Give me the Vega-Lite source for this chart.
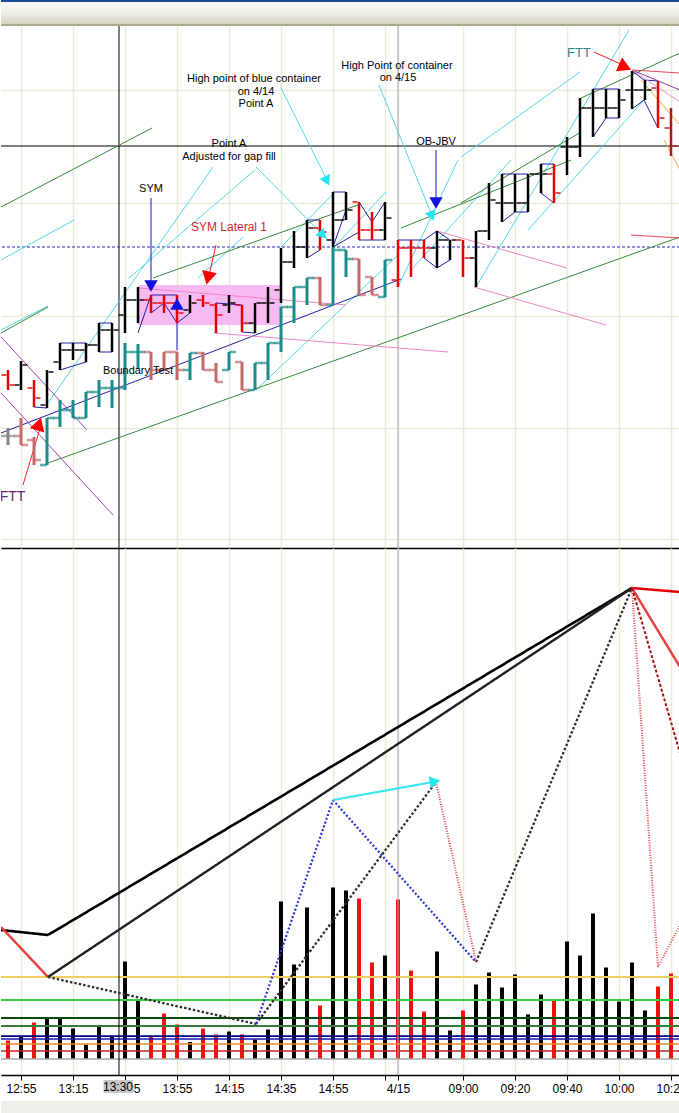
{
 "$schema": "https://vega.github.io/schema/vega-lite/v6.json",
 "padding": 0,
 "autosize": {"type": "pad"},
 "background": "white",
 "config": {"view": {"stroke": null}, "font": "Liberation Sans"},
 "datasets": {
  "main": [
   {"x":0,"hi":1157.5,"lo":1152.5,"o":1156.25,"c":1153.75,"dir":"down"},
   {"x":1,"hi":1159.75,"lo":1152.5,"o":1153.75,"c":1158.75,"dir":"up"},
   {"x":2,"hi":1155,"lo":1148.25,"o":1153,"c":1150.5,"dir":"down"},
   {"x":3,"hi":1157.5,"lo":1148,"o":1148.75,"c":1157,"dir":"up"},
   {"x":4,"hi":1164.25,"lo":1157.5,"o":1159.5,"c":1162.5,"dir":"up"},
   {"x":5,"hi":1164.25,"lo":1160,"o":1162.5,"c":1162.5,"dir":"up"},
   {"x":6,"hi":1164.25,"lo":1159.5,"o":1162.5,"c":1163.75,"dir":"up"},
   {"x":7,"hi":1169.25,"lo":1162,"o":1163.75,"c":1167.5,"dir":"up"},
   {"x":8,"hi":1169.25,"lo":1162,"o":1167.5,"c":1167.5,"dir":"up"},
   {"x":9,"hi":1178.25,"lo":1166.75,"o":1171.25,"c":1175,"dir":"up"},
   {"x":10,"hi":1178.25,"lo":1169.25,"o":1175,"c":1175,"dir":"up"},
   {"x":11,"hi":1176.25,"lo":1171.75,"o":1175,"c":1174.25,"dir":"down"},
   {"x":12,"hi":1176.25,"lo":1171.75,"o":1174.25,"c":1174.25,"dir":"down"},
   {"x":13,"hi":1176.25,"lo":1169.25,"o":1174.25,"c":1171.75,"dir":"down"},
   {"x":14,"hi":1176.25,"lo":1171.75,"o":1172.5,"c":1174.25,"dir":"up"},
   {"x":15,"hi":1176.25,"lo":1173.25,"o":1175,"c":1174.25,"dir":"down"},
   {"x":16,"hi":1174.25,"lo":1166.75,"o":1173.75,"c":1171.25,"dir":"down"},
   {"x":17,"hi":1176.25,"lo":1171.75,"o":1173.75,"c":1174.25,"dir":"up"},
   {"x":18,"hi":1173.75,"lo":1167,"o":1173.75,"c":1169.25,"dir":"down"},
   {"x":19,"hi":1174.25,"lo":1166.75,"o":1169.25,"c":1174.25,"dir":"up"},
   {"x":20,"hi":1178.25,"lo":1169.25,"o":1174.25,"c":1174.25,"dir":"up"},
   {"x":21,"hi":1188,"lo":1174.25,"o":1177.5,"c":1184.5,"dir":"up"},
   {"x":22,"hi":1192.25,"lo":1183,"o":1184.5,"c":1188.25,"dir":"up"},
   {"x":23,"hi":1195,"lo":1185.5,"o":1188.25,"c":1193,"dir":"up"},
   {"x":24,"hi":1195,"lo":1187.5,"o":1193,"c":1192,"dir":"down"},
   {"x":25,"hi":1202,"lo":1188.25,"o":1190,"c":1195,"dir":"up"},
   {"x":26,"hi":1202,"lo":1195,"o":1195,"c":1197.5,"dir":"up"},
   {"x":27,"hi":1199.5,"lo":1190,"o":1199.5,"c":1192.5,"dir":"down"},
   {"x":28,"hi":1197,"lo":1190,"o":1192.5,"c":1192.5,"dir":"down"},
   {"x":29,"hi":1199.5,"lo":1190,"o":1192.5,"c":1195.5,"dir":"up"},
   {"x":30,"hi":1190,"lo":1178.25,"o":1180,"c":1188,"dir":"down"},
   {"x":31,"hi":1190,"lo":1180.75,"o":1188,"c":1188,"dir":"down"},
   {"x":32,"hi":1190,"lo":1185.5,"o":1188,"c":1188,"dir":"down"},
   {"x":33,"hi":1192.25,"lo":1183,"o":1188,"c":1190,"dir":"up"},
   {"x":34,"hi":1190,"lo":1185,"o":1190,"c":1190,"dir":"up"},
   {"x":35,"hi":1190,"lo":1180.75,"o":1190,"c":1185.5,"dir":"down"},
   {"x":36,"hi":1192.25,"lo":1178.25,"o":1185.5,"c":1192.25,"dir":"up"},
   {"x":37,"hi":1204.25,"lo":1190,"o":1192.25,"c":1200,"dir":"up"},
   {"x":38,"hi":1206.5,"lo":1194.5,"o":1199.25,"c":1199.25,"dir":"up"},
   {"x":39,"hi":1206.5,"lo":1197,"o":1199.25,"c":1199.25,"dir":"up"},
   {"x":40,"hi":1206.5,"lo":1197,"o":1199.25,"c":1206.5,"dir":"up"},
   {"x":41,"hi":1209,"lo":1201.75,"o":1206.5,"c":1206.5,"dir":"up"},
   {"x":42,"hi":1209,"lo":1199.25,"o":1206.5,"c":1201.75,"dir":"down"},
   {"x":43,"hi":1215.75,"lo":1206.25,"o":1213.25,"c":1213.25,"dir":"up"},
   {"x":44,"hi":1225.5,"lo":1210.75,"o":1213.25,"c":1223,"dir":"up"},
   {"x":45,"hi":1227.75,"lo":1215.75,"o":1223,"c":1223,"dir":"up"},
   {"x":46,"hi":1227.75,"lo":1220.5,"o":1223,"c":1223,"dir":"up"},
   {"x":47,"hi":1227.75,"lo":1220.5,"o":1223,"c":1225,"dir":"up"},
   {"x":48,"hi":1232.25,"lo":1222.75,"o":1227.5,"c":1227.5,"dir":"up"},
   {"x":49,"hi":1230,"lo":1225,"o":1227.5,"c":1227.5,"dir":"up"},
   {"x":50,"hi":1229.75,"lo":1218,"o":1228,"c":1220.5,"dir":"down"},
   {"x":51,"hi":1223,"lo":1211,"o":1218,"c":1213.5,"dir":"down2"}
  ],
  "overlay": [
   {"x":0,"hi":1143,"lo":1138.75,"o":1141,"c":1141,"dir":"flat"},
   {"x":1,"hi":1145.5,"lo":1138.75,"o":1141,"c":1138.75,"dir":"down"},
   {"x":2,"hi":1140.75,"lo":1133.75,"o":1140,"c":1135,"dir":"down"},
   {"x":3,"hi":1145.5,"lo":1133.75,"o":1133.75,"c":1145.5,"dir":"up"},
   {"x":4,"hi":1150,"lo":1143.25,"o":1145.5,"c":1147.5,"dir":"up"},
   {"x":5,"hi":1150,"lo":1145.5,"o":1147.5,"c":1145.5,"dir":"up"},
   {"x":6,"hi":1152,"lo":1145.5,"o":1145.5,"c":1152,"dir":"up"},
   {"x":7,"hi":1155,"lo":1148.25,"o":1152,"c":1153,"dir":"up"},
   {"x":8,"hi":1155,"lo":1148,"o":1153,"c":1153,"dir":"up"},
   {"x":9,"hi":1164.25,"lo":1152.5,"o":1153,"c":1162,"dir":"up"},
   {"x":10,"hi":1164,"lo":1157.75,"o":1162,"c":1162,"dir":"up"},
   {"x":11,"hi":1162,"lo":1155,"o":1162,"c":1157.5,"dir":"down"},
   {"x":12,"hi":1162,"lo":1157.5,"o":1157.5,"c":1162,"dir":"down"},
   {"x":13,"hi":1162,"lo":1155,"o":1162,"c":1157.5,"dir":"down"},
   {"x":14,"hi":1161.75,"lo":1155,"o":1157.5,"c":1161.75,"dir":"up"},
   {"x":15,"hi":1162,"lo":1157.5,"o":1161.75,"c":1157.5,"dir":"down"},
   {"x":16,"hi":1159.25,"lo":1154.5,"o":1157.5,"c":1154.5,"dir":"down"},
   {"x":17,"hi":1162,"lo":1157.5,"o":1157.5,"c":1162,"dir":"up"},
   {"x":18,"hi":1159.5,"lo":1152.5,"o":1159.5,"c":1152.5,"dir":"down"},
   {"x":19,"hi":1159.25,"lo":1152.5,"o":1152.5,"c":1159.25,"dir":"up"},
   {"x":20,"hi":1164.25,"lo":1155,"o":1159.25,"c":1164.25,"dir":"up"},
   {"x":21,"hi":1173.25,"lo":1162,"o":1164.25,"c":1173.25,"dir":"up"},
   {"x":22,"hi":1178.25,"lo":1169.25,"o":1173.25,"c":1178.25,"dir":"up"},
   {"x":23,"hi":1180.5,"lo":1173.75,"o":1178.25,"c":1180.5,"dir":"up"},
   {"x":24,"hi":1180.75,"lo":1173.75,"o":1180.5,"c":1173.75,"dir":"down"},
   {"x":25,"hi":1188.25,"lo":1173.75,"o":1173.75,"c":1187.5,"dir":"up"},
   {"x":26,"hi":1187.5,"lo":1180.75,"o":1187.5,"c":1185.25,"dir":"up"},
   {"x":27,"hi":1185.25,"lo":1176.25,"o":1185.25,"c":1176.25,"dir":"down"},
   {"x":28,"hi":1180.75,"lo":1176.25,"o":1180.75,"c":1176.25,"dir":"down"},
   {"x":29,"hi":1185,"lo":1175.75,"o":1175.75,"c":1185,"dir":"up"}
  ],
  "vol": [
   {"x":0,"v":370,"dir":"down"},{"x":1,"v":460,"dir":"up"},{"x":2,"v":730,"dir":"down"},{"x":3,"v":820,"dir":"up"},
   {"x":4,"v":810,"dir":"up"},{"x":5,"v":610,"dir":"up"},{"x":6,"v":290,"dir":"up"},{"x":7,"v":650,"dir":"up"},
   {"x":8,"v":450,"dir":"up"},{"x":9,"v":1950,"dir":"up"},{"x":10,"v":1170,"dir":"up"},{"x":11,"v":460,"dir":"down"},
   {"x":12,"v":910,"dir":"down"},{"x":13,"v":690,"dir":"down"},{"x":14,"v":340,"dir":"up"},{"x":15,"v":610,"dir":"down"},
   {"x":16,"v":490,"dir":"down"},{"x":17,"v":550,"dir":"up"},{"x":18,"v":490,"dir":"down"},{"x":19,"v":390,"dir":"up"},
   {"x":20,"v":590,"dir":"up"},{"x":21,"v":3150,"dir":"up"},{"x":22,"v":1890,"dir":"up"},{"x":23,"v":3030,"dir":"up"},
   {"x":24,"v":1070,"dir":"down"},{"x":25,"v":3430,"dir":"up"},{"x":26,"v":3370,"dir":"up"},{"x":27,"v":3210,"dir":"down"},
   {"x":28,"v":1930,"dir":"down"},{"x":29,"v":2070,"dir":"up"},{"x":30,"v":3190,"dir":"down"},{"x":31,"v":1770,"dir":"down"},
   {"x":32,"v":950,"dir":"down"},{"x":33,"v":2150,"dir":"up"},{"x":34,"v":570,"dir":"up"},{"x":35,"v":970,"dir":"down"},
   {"x":36,"v":1490,"dir":"up"},{"x":37,"v":1730,"dir":"up"},{"x":38,"v":1430,"dir":"up"},{"x":39,"v":1690,"dir":"up"},
   {"x":40,"v":890,"dir":"up"},{"x":41,"v":1290,"dir":"up"},{"x":42,"v":1170,"dir":"down"},{"x":43,"v":2350,"dir":"up"},
   {"x":44,"v":2070,"dir":"up"},{"x":45,"v":2910,"dir":"up"},{"x":46,"v":1830,"dir":"up"},{"x":47,"v":1150,"dir":"up"},
   {"x":48,"v":1930,"dir":"up"},{"x":49,"v":970,"dir":"up"},{"x":50,"v":1450,"dir":"down"},{"x":51,"v":1710,"dir":"down"}
  ],
  "segp": [
   {"k":"cyan","x":-0.538,"y":1185,"x2":5.077,"y2":1195},
   {"k":"cyan","x":-0.538,"y":1167.5,"x2":3.077,"y2":1173.5},
   {"k":"cyan","x":3.077,"y":1149.25,"x2":15.769,"y2":1208.25},
   {"k":"cyan","x":9.308,"y":1180.5,"x2":19,"y2":1207.5},
   {"k":"cyan","x":14.615,"y":1180.5,"x2":18.077,"y2":1190.75},
   {"k":"cyan","x":19.077,"y":1152.5,"x2":30,"y2":1186.25},
   {"k":"cyan","x":19.077,"y":1208.25,"x2":24.615,"y2":1190},
   {"k":"cyan","x":21,"y":1228,"x2":24.615,"y2":1204.5},
   {"k":"cyan","x":28.538,"y":1228.75,"x2":32.692,"y2":1195.5},
   {"k":"cyan","x":30,"y":1178.25,"x2":34.615,"y2":1210},
   {"k":"cyan","x":31,"y":1182.5,"x2":38.692,"y2":1210},
   {"k":"cyan","x":36,"y":1178.25,"x2":47.769,"y2":1242.5},
   {"k":"cyan","x":34.846,"y":1210.75,"x2":44,"y2":1232},
   {"k":"cyan","x":40,"y":1192.5,"x2":48.923,"y2":1225},
   {"k":"cyan","x":21,"y":1188.25,"x2":25.077,"y2":1201.75},
   {"k":"cyan","x":25.077,"y":1188.25,"x2":29.077,"y2":1202},
   {"k":"green","x":-0.538,"y":1198.25,"x2":11.077,"y2":1218},
   {"k":"green","x":-0.538,"y":1166.75,"x2":3.077,"y2":1173.25},
   {"k":"green","x":11.154,"y":1180.5,"x2":26.923,"y2":1198.75},
   {"k":"green","x":30.231,"y":1193,"x2":43.308,"y2":1210},
   {"k":"green","x":3.077,"y":1134.25,"x2":51.692,"y2":1190.75},
   {"k":"green","x":34.846,"y":1199.25,"x2":44.077,"y2":1217},
   {"k":"green","x":44.077,"y":1225.5,"x2":51.692,"y2":1236.75},
   {"k":"blue","x":-0.538,"y":1141.75,"x2":30.231,"y2":1180.25},
   {"k":"blue","x":4,"y":1164.25,"x2":6,"y2":1164.25},
   {"k":"blue","x":4,"y":1157.5,"x2":6,"y2":1159.5},
   {"k":"blue","x":7,"y":1169.25,"x2":8,"y2":1169.25},
   {"k":"blue","x":7,"y":1162,"x2":8,"y2":1162},
   {"k":"blue","x":2,"y":1148.25,"x2":3,"y2":1148},
   {"k":"blue","x":11,"y":1176.25,"x2":13,"y2":1176.25},
   {"k":"blue","x":10,"y":1166.75,"x2":11,"y2":1176.25},
   {"k":"blue","x":11,"y":1171.75,"x2":12,"y2":1174.25},
   {"k":"blue","x":12,"y":1174.25,"x2":13,"y2":1169.25},
   {"k":"blue","x":13,"y":1169.25,"x2":14,"y2":1171.75},
   {"k":"blue","x":16,"y":1174.25,"x2":18,"y2":1173.75},
   {"k":"blue","x":18,"y":1167,"x2":19,"y2":1166.75},
   {"k":"blue","x":23,"y":1195,"x2":24,"y2":1195},
   {"k":"blue","x":23,"y":1185.5,"x2":24,"y2":1187.5},
   {"k":"blue","x":25,"y":1202,"x2":26,"y2":1202},
   {"k":"blue","x":25,"y":1188.25,"x2":26,"y2":1197.5},
   {"k":"blue","x":25,"y":1188.25,"x2":27,"y2":1192},
   {"k":"blue","x":27,"y":1199.5,"x2":28,"y2":1194.5},
   {"k":"blue","x":28,"y":1194.5,"x2":29,"y2":1199.5},
   {"k":"blue","x":27,"y":1190,"x2":29,"y2":1190},
   {"k":"blue","x":30,"y":1190,"x2":32,"y2":1190},
   {"k":"blue","x":32,"y":1190,"x2":33,"y2":1192.25},
   {"k":"blue","x":33,"y":1192.25,"x2":34,"y2":1190},
   {"k":"blue","x":32,"y":1185.5,"x2":33,"y2":1183},
   {"k":"blue","x":33,"y":1183,"x2":34,"y2":1185},
   {"k":"blue","x":38,"y":1206.5,"x2":40,"y2":1206.5},
   {"k":"blue","x":38,"y":1194.5,"x2":39,"y2":1197},
   {"k":"blue","x":39,"y":1197,"x2":40,"y2":1197},
   {"k":"blue","x":41,"y":1209,"x2":42,"y2":1209},
   {"k":"blue","x":41,"y":1201.75,"x2":42,"y2":1199.25},
   {"k":"blue","x":45,"y":1227.75,"x2":47,"y2":1227.75},
   {"k":"blue","x":45,"y":1215.75,"x2":46,"y2":1220.5},
   {"k":"blue","x":46,"y":1220.5,"x2":47,"y2":1220.5},
   {"k":"blue","x":48,"y":1232.25,"x2":48.923,"y2":1230},
   {"k":"blue","x":48.923,"y":1230,"x2":50,"y2":1229.75},
   {"k":"blue","x":48,"y":1222.75,"x2":48.923,"y2":1225},
   {"k":"blue","x":48.923,"y":1225,"x2":50,"y2":1218},
   {"k":"barrow","x":11,"y":1200.5,"x2":11,"y2":1178.75},
   {"k":"barrow","x":13,"y":1162.5,"x2":13,"y2":1173.75},
   {"k":"barrow","x":32.923,"y":1212.5,"x2":32.923,"y2":1198.75},
   {"k":"pink","x":15.846,"y":1166.75,"x2":33.846,"y2":1162},
   {"k":"pink","x":10,"y":1178,"x2":26,"y2":1173.75},
   {"k":"pink","x":33,"y":1192.25,"x2":43,"y2":1183},
   {"k":"pink","x":35.846,"y":1178.25,"x2":46,"y2":1168.75},
   {"k":"fanred","x":47.923,"y":1191.25,"x2":51.692,"y2":1190.5},
   {"k":"purple","x":-0.538,"y":1165.75,"x2":6.077,"y2":1142.5},
   {"k":"purple","x":-0.538,"y":1151.75,"x2":8.077,"y2":1121.25},
   {"k":"fanred","x":48,"y":1232.5,"x2":51.692,"y2":1231.75},
   {"k":"fanpurple","x":48,"y":1232.5,"x2":51.692,"y2":1227.5},
   {"k":"fanpink","x":48,"y":1232.5,"x2":51.692,"y2":1224.5},
   {"k":"orange","x":48.692,"y":1230,"x2":51.692,"y2":1218.75},
   {"k":"orange","x":50.462,"y":1215,"x2":51.692,"y2":1207.5},
   {"k":"redarrow","x":1.154,"y":1128.75,"x2":2.538,"y2":1143.75},
   {"k":"redarrow","x":16,"y":1188.75,"x2":15.385,"y2":1180},
   {"k":"redarrow","x":45.077,"y":1237,"x2":47.462,"y2":1233.5}
  ],
  "segv": [
   {"k":"thick","x":-0.538,"y":2580,"x2":3.077,"y2":2480},
   {"k":"thick","x":3.077,"y":2480,"x2":48,"y2":9420},
   {"k":"thickred","x":48,"y":9420,"x2":51.692,"y2":9340},
   {"k":"red","x":-0.538,"y":2640,"x2":3.077,"y2":1640},
   {"k":"thin","x":3.077,"y":1640,"x2":48,"y2":9420},
   {"k":"blackdash","x":3.077,"y":1640,"x2":19.077,"y2":700},
   {"k":"blackdash","x":19.077,"y":700,"x2":32.923,"y2":5540},
   {"k":"blackdash","x":36,"y":1940,"x2":48,"y2":9420},
   {"k":"bluedash","x":19.077,"y":700,"x2":25,"y2":5180},
   {"k":"bluedash","x":25,"y":5180,"x2":36,"y2":1940},
   {"k":"cyan","x":25,"y":5180,"x2":32.692,"y2":5540},
   {"k":"reddot","x":32.923,"y":5540,"x2":36,"y2":1940},
   {"k":"reddot","x":48,"y":9420,"x2":50,"y2":1840},
   {"k":"reddot","x":50,"y":1840,"x2":51.692,"y2":2680},
   {"k":"red","x":48,"y":9420,"x2":51.692,"y2":7840},
   {"k":"reddash","x":48,"y":9420,"x2":51.692,"y2":6120}
  ],
  "hlv": [
   {"v":1640,"k":"yellow"},{"v":1180,"k":"lime"},{"v":820,"k":"dkgreen"},{"v":660,"k":"green"},
   {"v":460,"k":"navy"},{"v":400,"k":"navy2"},{"v":300,"k":"orange"},{"v":160,"k":"red"},{"v":0,"k":"gray"}
  ],
  "vlines": [{"x":8.538,"k":"cursor"},{"x":30,"k":"day"}],
  "hlp": [{"y":1213.5,"k":"cursor"},{"y":1188.25,"k":"bluedash"}],
  "zone": [{"x":10,"x2":21,"top":1178.75,"bottom":1168.75}],
  "tri": [
   {"x":2.385,"y":1144,"k":"red","ang":17},
   {"x":15.385,"y":1180.5,"k":"red","ang":193},
   {"x":47.462,"y":1233.25,"k":"red","ang":114},
   {"x":11,"y":1178.5,"k":"blue","ang":180},
   {"x":13,"y":1174,"k":"blue","ang":0},
   {"x":32.923,"y":1199.25,"k":"blue","ang":180},
   {"x":24.538,"y":1204.75,"k":"cyan","ang":154},
   {"x":24.231,"y":1191.25,"k":"cyan","ang":135},
   {"x":32.615,"y":1196,"k":"cyan","ang":158}
  ],
  "trv": [{"x":32.846,"y":5550,"k":"cyan","ang":80}],
  "notes": [
   {"x":18.923,"y":1230.25,"t":"High point of blue container","k":"note"},
   {"x":19.077,"y":1227,"t":"on 4/14","k":"note"},
   {"x":19.077,"y":1224,"t":"Point A","k":"note"},
   {"x":17,"y":1214,"t":"Point A","k":"note"},
   {"x":17,"y":1210.75,"t":"Adjusted for gap fill","k":"note"},
   {"x":29.923,"y":1233.5,"t":"High Point of container","k":"note"},
   {"x":30,"y":1230.5,"t":"on 4/15","k":"note"},
   {"x":11,"y":1202.75,"t":"SYM","k":"note"},
   {"x":17,"y":1193.25,"t":"SYM Lateral 1","k":"lateral"},
   {"x":32.923,"y":1214.5,"t":"OB-JBV","k":"note"},
   {"x":10,"y":1157.25,"t":"Boundary Test","k":"note"},
   {"x":43.923,"y":1236.75,"t":"FTT","k":"ftt1"},
   {"x":0.35,"y":1125.75,"t":"FTT","k":"ftt2"}
  ],
  "cursorlab": [{"x":7.354,"x2":9.615,"top":-420,"bottom":-680,"xm":8.462,"ym":-560,"t":"13:30"}]
 },
 "spacing": 0,
 "vconcat": [
  {
   "spacing": 0,
   "bounds": "flush",
   "vconcat": [
    {
     "width": 679, "height": 26,
     "data": {"values": [{"k": 1}]},
     "mark": {"type": "rect", "stroke": null, "fill": {"gradient": "linear", "x1": 0, "y1": 0, "x2": 0, "y2": 1,
       "stops": [{"offset": 0, "color": "#1C4C9A"}, {"offset": 0.06, "color": "#1C4C9A"}, {"offset": 0.09, "color": "#FAFAF6"},
                 {"offset": 0.5, "color": "#EFEEE6"}, {"offset": 0.9, "color": "#D9D6C4"}, {"offset": 0.94, "color": "#ACA890"}, {"offset": 1, "color": "#ACA890"}]}},
     "encoding": {}
    },
    {
     "width": 679, "height": 522,
     "resolve": {"scale": {"color": "independent", "strokeWidth": "independent", "strokeDash": "independent", "size": "independent"}},
     "layer": [
      {
       "data": {"name": "vlines"},
       "mark": {"type": "rule"},
       "encoding": {
        "x": {"field": "x", "type": "quantitative", "scale": {"domain": [-0.5385, 51.6923], "nice": false, "zero": false},
              "axis": {"values": [1,5,9,13,17,21,25,29,30,35,39,43,47,51], "grid": true, "gridColor": "#ECE9D9", "gridWidth": 1.5,
                       "labels": false, "ticks": false, "domain": true, "domainColor": "#000000", "domainWidth": 1.5, "title": null,
                       "minExtent": 0, "maxExtent": 0, "orient": "bottom"}},
        "color": {"field": "k", "type": "nominal", "scale": {"domain": ["cursor", "day"], "range": ["#000000", "#A8A8A8"]}, "legend": null}
       }
      },
      {
       "data": {"name": "hlp"},
       "mark": {"type": "rule"},
       "encoding": {
        "y": {"field": "y", "type": "quantitative", "scale": {"domain": [1113, 1243.5], "nice": false, "zero": false},
              "axis": {"values": [1115.25, 1143, 1171, 1199.25, 1227.5], "grid": true, "gridColor": "#ECE9D9", "gridWidth": 1.5,
                       "labels": false, "ticks": false, "domain": false, "title": null, "minExtent": 0, "maxExtent": 0}},
        "color": {"field": "k", "type": "nominal", "scale": {"domain": ["cursor", "bluedash"], "range": ["#000000", "#2A2AB8"]}, "legend": null},
        "strokeDash": {"field": "k", "type": "nominal", "scale": {"domain": ["cursor", "bluedash"], "range": [[1, 0], [3, 2]]}, "legend": null}
       }
      },
      {
       "data": {"name": "zone"},
       "mark": {"type": "rect", "fill": "#F6B2F1", "opacity": 0.9},
       "encoding": {
        "x": {"field": "x", "type": "quantitative", "scale": {"domain": [-0.5385, 51.6923], "nice": false, "zero": false}},
        "x2": {"field": "x2"},
        "y": {"field": "top", "type": "quantitative", "scale": {"domain": [1113, 1243.5], "nice": false, "zero": false}},
        "y2": {"field": "bottom"}
       }
      },
      {
       "data": {"name": "segp"},
       "mark": {"type": "rule", "clip": true},
       "encoding": {
        "x": {"field": "x", "type": "quantitative", "scale": {"domain": [-0.5385, 51.6923], "nice": false, "zero": false}},
        "x2": {"field": "x2"},
        "y": {"field": "y", "type": "quantitative", "scale": {"domain": [1113, 1243.5], "nice": false, "zero": false}},
        "y2": {"field": "y2"},
        "color": {"field": "k", "type": "nominal", "legend": null, "scale": {
          "domain": ["cyan", "green", "blue", "barrow", "pink", "purple", "redarrow", "fanred", "fanpurple", "fanpink", "orange"],
          "range": ["#52D8E2", "#3A8A3A", "#2020A4", "#1414C8", "#EE86C6", "#9A46AE", "#F02020", "#E04858", "#8A3A9A", "#E892D8", "#F2A84A"]}},
        "strokeWidth": {"field": "k", "type": "nominal", "legend": null, "scale": {
          "domain": ["cyan", "green", "blue", "barrow", "pink", "purple", "redarrow", "fanred", "fanpurple", "fanpink", "orange"],
          "range": [1, 1, 1, 1.3, 1, 1, 1.4, 1.6, 1.3, 1.3, 1.3]}}
       }
      },
      {
       "data": {"name": "overlay"},
       "mark": {"type": "rule", "strokeWidth": 3},
       "encoding": {
        "x": {"field": "x", "type": "quantitative", "scale": {"domain": [-0.5385, 51.6923], "nice": false, "zero": false}},
        "y": {"field": "hi", "type": "quantitative", "scale": {"domain": [1113, 1243.5], "nice": false, "zero": false}},
        "y2": {"field": "lo"},
        "color": {"field": "dir", "type": "nominal", "legend": null, "scale": {"domain": ["up", "down", "flat"], "range": ["#1A8A8A", "#C46868", "#858585"]}}
       }
      },
      {
       "data": {"name": "overlay"},
       "mark": {"type": "tick", "orient": "horizontal", "size": 7, "thickness": 2.5, "xOffset": -3.5},
       "encoding": {
        "x": {"field": "x", "type": "quantitative", "scale": {"domain": [-0.5385, 51.6923], "nice": false, "zero": false}},
        "y": {"field": "o", "type": "quantitative", "scale": {"domain": [1113, 1243.5], "nice": false, "zero": false}},
        "color": {"field": "dir", "type": "nominal", "legend": null, "scale": {"domain": ["up", "down", "flat"], "range": ["#1A8A8A", "#C46868", "#858585"]}}
       }
      },
      {
       "data": {"name": "overlay"},
       "mark": {"type": "tick", "orient": "horizontal", "size": 7, "thickness": 2.5, "xOffset": 3.5},
       "encoding": {
        "x": {"field": "x", "type": "quantitative", "scale": {"domain": [-0.5385, 51.6923], "nice": false, "zero": false}},
        "y": {"field": "c", "type": "quantitative", "scale": {"domain": [1113, 1243.5], "nice": false, "zero": false}},
        "color": {"field": "dir", "type": "nominal", "legend": null, "scale": {"domain": ["up", "down", "flat"], "range": ["#1A8A8A", "#C46868", "#858585"]}}
       }
      },
      {
       "data": {"name": "main"},
       "mark": {"type": "rule", "strokeWidth": 2.5},
       "encoding": {
        "x": {"field": "x", "type": "quantitative", "scale": {"domain": [-0.5385, 51.6923], "nice": false, "zero": false}},
        "y": {"field": "hi", "type": "quantitative", "scale": {"domain": [1113, 1243.5], "nice": false, "zero": false}},
        "y2": {"field": "lo"},
        "color": {"field": "dir", "type": "nominal", "legend": null, "scale": {"domain": ["up", "down", "down2"], "range": ["#000000", "#E80000", "#B01818"]}}
       }
      },
      {
       "data": {"name": "main"},
       "mark": {"type": "tick", "orient": "horizontal", "size": 5, "thickness": 2, "xOffset": -4},
       "encoding": {
        "x": {"field": "x", "type": "quantitative", "scale": {"domain": [-0.5385, 51.6923], "nice": false, "zero": false}},
        "y": {"field": "o", "type": "quantitative", "scale": {"domain": [1113, 1243.5], "nice": false, "zero": false}},
        "color": {"field": "dir", "type": "nominal", "legend": null, "scale": {"domain": ["up", "down", "down2"], "range": ["#000000", "#E80000", "#B01818"]}}
       }
      },
      {
       "data": {"name": "main"},
       "mark": {"type": "tick", "orient": "horizontal", "size": 5, "thickness": 2, "xOffset": 4},
       "encoding": {
        "x": {"field": "x", "type": "quantitative", "scale": {"domain": [-0.5385, 51.6923], "nice": false, "zero": false}},
        "y": {"field": "c", "type": "quantitative", "scale": {"domain": [1113, 1243.5], "nice": false, "zero": false}},
        "color": {"field": "dir", "type": "nominal", "legend": null, "scale": {"domain": ["up", "down", "down2"], "range": ["#000000", "#E80000", "#B01818"]}}
       }
      },
      {
       "data": {"name": "tri"},
       "mark": {"type": "point", "shape": "triangle-up", "filled": true, "opacity": 1, "clip": true},
       "encoding": {
        "x": {"field": "x", "type": "quantitative", "scale": {"domain": [-0.5385, 51.6923], "nice": false, "zero": false}},
        "y": {"field": "y", "type": "quantitative", "scale": {"domain": [1113, 1243.5], "nice": false, "zero": false}},
        "angle": {"field": "ang", "type": "quantitative", "scale": null},
        "color": {"field": "k", "type": "nominal", "legend": null, "scale": {"domain": ["red", "blue", "cyan"], "range": ["#FF0000", "#1010E0", "#22E6F0"]}},
        "size": {"field": "k", "type": "nominal", "legend": null, "scale": {"domain": ["red", "blue", "cyan"], "range": [230, 130, 190]}}
       }
      },
      {
       "data": {"name": "notes"},
       "mark": {"type": "text", "font": "Liberation Sans", "baseline": "middle", "align": "center", "clip": true},
       "encoding": {
        "x": {"field": "x", "type": "quantitative", "scale": {"domain": [-0.5385, 51.6923], "nice": false, "zero": false}},
        "y": {"field": "y", "type": "quantitative", "scale": {"domain": [1113, 1243.5], "nice": false, "zero": false}},
        "text": {"field": "t"},
        "color": {"field": "k", "type": "nominal", "legend": null, "scale": {"domain": ["note", "lateral", "ftt1", "ftt2"], "range": ["#000000", "#D02828", "#2A8585", "#702070"]}},
        "size": {"field": "k", "type": "nominal", "legend": null, "scale": {"domain": ["note", "lateral", "ftt1", "ftt2"], "range": [11, 14, 13, 12]}}
       }
      }
     ]
    },
    {
     "width": 679, "height": 527,
     "resolve": {"scale": {"color": "independent", "strokeWidth": "independent", "strokeDash": "independent", "size": "independent"}},
     "layer": [
      {
       "data": {"name": "vol"},
       "mark": {"type": "rule", "strokeWidth": 4},
       "encoding": {
        "x": {"field": "x", "type": "quantitative", "scale": {"domain": [-0.5385, 51.6923], "nice": false, "zero": false},
              "axis": {"values": [1,5,9,13,17,21,25,29,30,35,39,43,47,51], "grid": true, "gridColor": "#ECE9D9", "gridWidth": 1.5,
                       "labelExpr": "['12:55','13:15','13:35','13:55','14:15','14:35','14:55','','4/15','09:00','09:20','09:40','10:00','10:20'][indexof([1,5,9,13,17,21,25,29,30,35,39,43,47,51], datum.value)]",
                       "labelFont": "Liberation Sans Narrow, Liberation Sans", "labelFontSize": 12, "labelColor": "#000000", "labelPadding": 3,
                       "labelOverlap": false, "labelFlush": false, "labelBound": false,
                       "ticks": true, "tickColor": "#000000", "tickSize": 5, "domain": true, "domainColor": "#000000", "domainWidth": 1.5,
                       "title": null, "minExtent": 26, "maxExtent": 26, "orient": "bottom"}},
        "y": {"field": "v", "type": "quantitative", "scale": {"domain": [-320, 10220], "nice": false, "zero": false}, "axis": null},
        "y2": {"datum": 0},
        "color": {"field": "dir", "type": "nominal", "legend": null, "scale": {"domain": ["up", "down"], "range": ["#000000", "#F01010"]}}
       }
      },
      {
       "data": {"name": "hlv"},
       "mark": {"type": "rule"},
       "encoding": {
        "y": {"field": "v", "type": "quantitative", "scale": {"domain": [-320, 10220], "nice": false, "zero": false}, "axis": null},
        "color": {"field": "k", "type": "nominal", "legend": null, "scale": {
          "domain": ["yellow", "lime", "dkgreen", "green", "navy", "navy2", "orange", "red", "gray"],
          "range": ["#EDD060", "#3CCC3C", "#0A4A0A", "#3A7A3A", "#000080", "#1818B0", "#F08828", "#C82020", "#A8A8A8"]}},
        "strokeWidth": {"field": "k", "type": "nominal", "legend": null, "scale": {
          "domain": ["yellow", "lime", "dkgreen", "green", "navy", "navy2", "orange", "red", "gray"],
          "range": [2, 1.5, 1.3, 1.3, 1.3, 1.3, 1.3, 1.3, 2]}}
       }
      },
      {
       "data": {"name": "vlines"},
       "mark": {"type": "rule"},
       "encoding": {
        "x": {"field": "x", "type": "quantitative", "scale": {"domain": [-0.5385, 51.6923], "nice": false, "zero": false}},
        "color": {"field": "k", "type": "nominal", "scale": {"domain": ["cursor", "day"], "range": ["#000000", "#A8A8A8"]}, "legend": null}
       }
      },
      {
       "data": {"name": "segv"},
       "mark": {"type": "rule", "clip": true},
       "encoding": {
        "x": {"field": "x", "type": "quantitative", "scale": {"domain": [-0.5385, 51.6923], "nice": false, "zero": false}},
        "x2": {"field": "x2"},
        "y": {"field": "y", "type": "quantitative", "scale": {"domain": [-320, 10220], "nice": false, "zero": false}, "axis": null},
        "y2": {"field": "y2"},
        "color": {"field": "k", "type": "nominal", "legend": null, "scale": {
          "domain": ["thick", "thickred", "red", "thin", "blackdash", "bluedash", "cyan", "reddot", "reddash"],
          "range": ["#000000", "#E80000", "#E84040", "#202020", "#303030", "#2838D8", "#3CE6F0", "#E84848", "#A81010"]}},
        "strokeWidth": {"field": "k", "type": "nominal", "legend": null, "scale": {
          "domain": ["thick", "thickred", "red", "thin", "blackdash", "bluedash", "cyan", "reddot", "reddash"],
          "range": [2.6, 2, 1, 1, 0.9, 0.9, 1.5, 1, 1]}},
        "strokeDash": {"field": "k", "type": "nominal", "legend": null, "scale": {
          "domain": ["thick", "thickred", "red", "thin", "blackdash", "bluedash", "cyan", "reddot", "reddash"],
          "range": [[1, 0], [1, 0], [1, 0], [1, 0], [2.5, 2], [2, 2], [1, 0], [1, 1.5], [3, 2]]}}
       }
      },
      {
       "data": {"name": "trv"},
       "mark": {"type": "point", "shape": "triangle-up", "filled": true, "opacity": 1, "size": 150, "color": "#22E6F0"},
       "encoding": {
        "x": {"field": "x", "type": "quantitative", "scale": {"domain": [-0.5385, 51.6923], "nice": false, "zero": false}},
        "y": {"field": "y", "type": "quantitative", "scale": {"domain": [-320, 10220], "nice": false, "zero": false}, "axis": null},
        "angle": {"field": "ang", "type": "quantitative", "scale": null}
       }
      },
      {
       "data": {"name": "cursorlab"},
       "mark": {"type": "rect", "fill": "#C8C8C8"},
       "encoding": {
        "x": {"field": "x", "type": "quantitative", "scale": {"domain": [-0.5385, 51.6923], "nice": false, "zero": false}},
        "x2": {"field": "x2"},
        "y": {"field": "top", "type": "quantitative", "scale": {"domain": [-320, 10220], "nice": false, "zero": false}, "axis": null},
        "y2": {"field": "bottom"}
       }
      },
      {
       "data": {"name": "cursorlab"},
       "mark": {"type": "text", "font": "Liberation Sans Narrow, Liberation Sans", "fontSize": 12, "color": "#000000", "baseline": "middle", "align": "center"},
       "encoding": {
        "x": {"field": "xm", "type": "quantitative", "scale": {"domain": [-0.5385, 51.6923], "nice": false, "zero": false}},
        "y": {"field": "ym", "type": "quantitative", "scale": {"domain": [-320, 10220], "nice": false, "zero": false}, "axis": null},
        "text": {"field": "t"}
       }
      }
     ]
    }
   ]
  },
  {
   "width": 679, "height": 12,
   "data": {"values": [{"k": 1}]},
   "mark": {"type": "rect", "fill": "#EEEDE7", "stroke": null},
   "encoding": {}
  }
 ]
}
